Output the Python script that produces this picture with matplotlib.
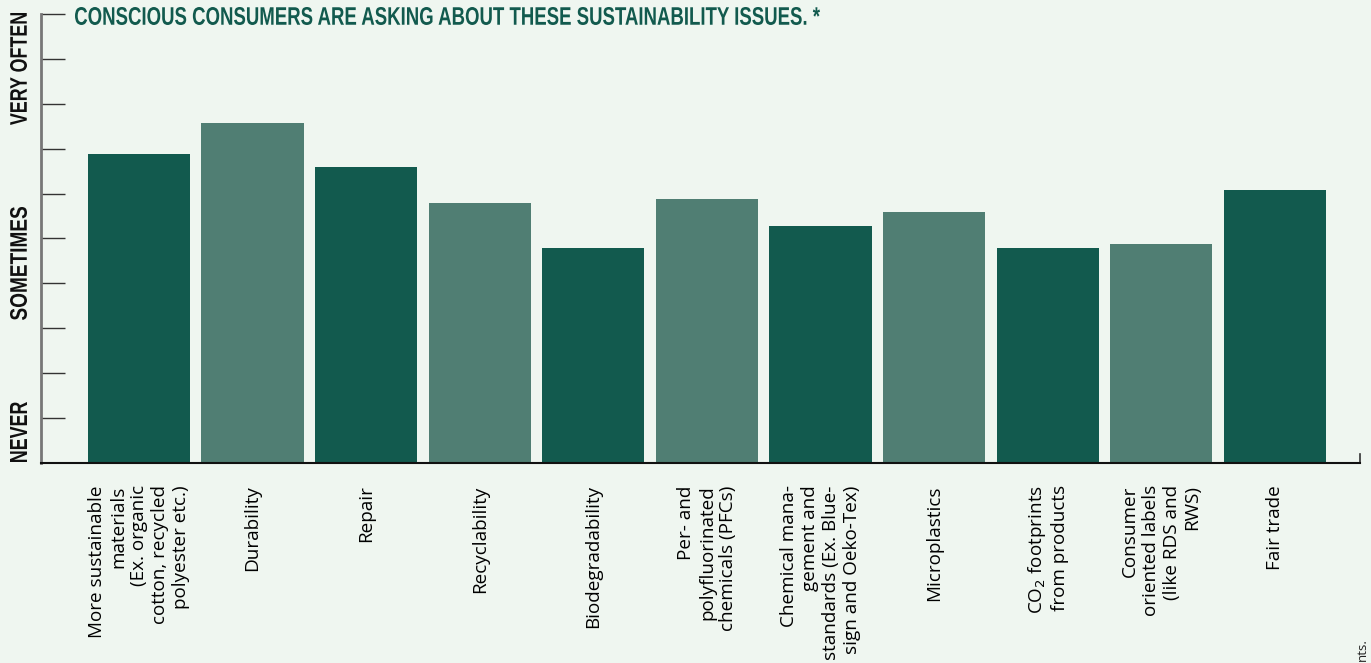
import numpy as np
import matplotlib.pyplot as plt
from matplotlib.textpath import TextPath
from matplotlib.patches import PathPatch
from matplotlib.font_manager import FontProperties
from matplotlib.transforms import Affine2D, IdentityTransform

# survey answers, scale 0 (never) .. 10 (very often)
issues = [
    "More sustainable\nmaterials\n(Ex. organic\ncotton, recycled\npolyester etc.)",
    "Durability",
    "Repair",
    "Recyclability",
    "Biodegradability",
    "Per- and\npolyfluorinated\nchemicals (PFCs)",
    "Chemical mana-\ngement and\nstandards (Ex. Blue-\nsign and Oeko-Tex)",
    "Microplastics",
    "CO$_2$ footprints\nfrom products",
    "Consumer\noriented labels\n(like RDS and\nRWS)",
    "Fair trade",
]
scores = [6.88, 7.57, 6.59, 5.79, 4.79, 5.88, 5.28, 5.59, 4.79, 4.88, 6.08]
scale_labels = ["NEVER", "SOMETIMES", "VERY OFTEN"]
title = "CONSCIOUS CONSUMERS ARE ASKING ABOUT THESE SUSTAINABILITY ISSUES. *"

bg = "#eff6f0"
dark = "#125a4e"
light = "#507e73"
W, H = 1371, 663

bold = FontProperties(family=["Liberation Sans", "DejaVu Sans"], weight="bold")


def squeezed_text(fig, s, cx, cy, length, height, color, rotate=False):
    # bold heading squeezed into a box (pixels from top-left), like a condensed face
    tp = TextPath((0, 0), s, size=100, prop=bold)
    ext = tp.get_extents()
    tr = Affine2D().translate(-(ext.x0 + ext.x1) / 2, -(ext.y0 + ext.y1) / 2)
    tr.scale(length / ext.width, height / ext.height)
    if rotate:
        tr.rotate_deg(90)
    tr.translate(cx, H - cy)
    fig.add_artist(PathPatch(tp, transform=tr + IdentityTransform(), color=color, lw=0))


fig = plt.figure(figsize=(W / 100, H / 100), dpi=100, facecolor=bg)
ax = fig.add_axes([41 / W, 200 / H, 1319 / W, 449 / H])
ax.set_facecolor(bg)

x = np.arange(len(issues))
colors = [dark if i % 2 == 0 else light for i in x]
ax.bar(x, scores, width=0.9, color=colors, zorder=2)

ax.set_xlim(-0.863, 10.75)
ax.set_ylim(0, 10)
ax.set_yticks(range(1, 11))
ax.set_yticklabels([])
ax.tick_params(axis="y", direction="in", length=17.3, width=1, color="#333333", left=True)
ax.set_xticks(x)
ax.set_xticklabels(issues, rotation=90, fontsize=13.6, family=["Open Sans", "DejaVu Sans"],
                   ha="center", va="top", multialignment="right", linespacing=1.2)
ax.tick_params(axis="x", length=0, pad=16)

for s in ["top", "right"]:
    ax.spines[s].set_visible(False)
ax.spines["left"].set_color("#777777")
ax.spines["left"].set_linewidth(2)
ax.spines["bottom"].set_color("#111111")
ax.spines["bottom"].set_linewidth(1.5)
ax.plot([1, 1], [0, 0.02], transform=ax.transAxes, color="#333333", lw=1.2, clip_on=False)

squeezed_text(fig, title, 447.5, 16, 745, 18, dark)

for lab, yc, ln in zip(scale_labels, [432, 263.5, 69], [60, 113, 112]):
    squeezed_text(fig, lab, 18.5, yc, ln, 17, "#111111", rotate=True)

fig.text(1362 / W, 1 - 638 / H, "nts.", rotation=90, family=["Open Sans", "DejaVu Sans"],
         fontsize=9.5, color="#222222", ha="center", va="top")

fig.savefig("out.png", dpi=100, facecolor=bg)
